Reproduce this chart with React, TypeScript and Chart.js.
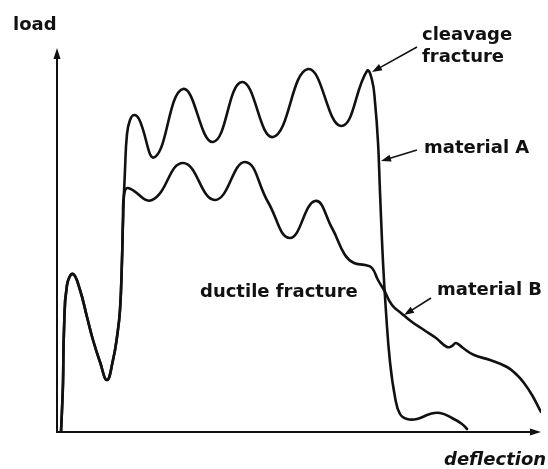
import React, { useEffect, useRef } from "react";
import { Chart, registerables } from "chart.js";

Chart.register(...registerables);

// deflection (x) / load (y), arbitrary units
const materialA: [number, number][] = [
  [4, 0], [5, 22], [6, 49], [7, 102], [10, 147], [16, 158], [23, 142], [30, 115],
  [36, 92], [43, 70], [50, 52], [56, 72], [60, 95], [63, 122], [65, 172], [66, 212],
  [68, 262], [70, 298], [73, 312], [77, 317], [82, 313], [98, 275], [126, 343],
  [156, 290], [185, 350], [216, 295], [251, 363], [284, 306], [310, 361], [315, 352],
  [318, 330], [321, 290], [323, 240], [326, 170], [329, 120], [333, 70], [338, 35],
  [343, 18], [350, 13], [360, 13], [373, 18], [383, 19], [395, 14], [405, 8], [410, 3],
];

const materialB: [number, number][] = [
  [4, 0], [5, 22], [6, 49], [7, 102], [10, 147], [16, 158], [23, 142], [30, 115],
  [36, 92], [43, 70], [50, 52], [56, 72], [60, 95], [63, 122], [65, 172], [66, 212],
  [67, 237], [71, 244], [95, 232], [126, 269], [158, 232], [188, 270], [211, 230],
  [233, 194], [258, 231], [275, 204], [288, 177], [297, 169], [308, 167], [315, 164],
  [321, 152], [327, 142], [335, 127], [344, 119], [355, 110], [367, 102], [379, 94],
  [390, 85], [395, 86], [399, 89], [406, 84], [417, 77], [433, 72], [450, 65],
  [460, 57], [467, 49], [475, 37], [484, 20],
];

const xMax = 484;
const yMax = 384;

// text labels: [text, x, y (baseline)] in data units
const labelTexts = ["load", "cleavage", "fracture", "material A", "ductile fracture", "material B", "deflection"];
const labelX = [-44, 365, 365, 367, 143, 380, 387];
const labelY = [402, 392, 370, 279, 135, 137, -33];

// annotation arrows: from (x0,y0) to tip (x1,y1) in data units
const arrowFromX = [360, 360, 374];
const arrowFromY = [385, 282, 134];
const arrowToX = [315, 324, 347];
const arrowToY = [360, 271, 117];

function arrowHead(ctx: CanvasRenderingContext2D, x0: number, y0: number, x1: number, y1: number, len: number, half: number) {
  const a = Math.atan2(y1 - y0, x1 - x0);
  ctx.beginPath();
  ctx.moveTo(x1, y1);
  ctx.lineTo(x1 - len * Math.cos(a) + half * Math.sin(a), y1 - len * Math.sin(a) - half * Math.cos(a));
  ctx.lineTo(x1 - len * Math.cos(a) - half * Math.sin(a), y1 - len * Math.sin(a) + half * Math.cos(a));
  ctx.closePath();
  ctx.fill();
}

const decor = {
  id: "decor",
  afterDatasetsDraw(chart: any) {
    const { ctx, chartArea, scales } = chart;
    const sx = scales.x, sy = scales.y;
    ctx.save();
    ctx.strokeStyle = "#111";
    ctx.fillStyle = "#111";
    // axes
    ctx.lineWidth = 2;
    ctx.beginPath();
    ctx.moveTo(chartArea.left, chartArea.top + 6);
    ctx.lineTo(chartArea.left, chartArea.bottom);
    ctx.lineTo(chartArea.right - 6, chartArea.bottom);
    ctx.stroke();
    arrowHead(ctx, chartArea.left, chartArea.bottom, chartArea.left, chartArea.top, 11, 3.5);
    arrowHead(ctx, chartArea.left, chartArea.bottom, chartArea.right, chartArea.bottom, 11, 3.5);
    // annotation arrows
    ctx.lineWidth = 1.6;
    for (let i = 0; i < arrowFromX.length; i++) {
      const x0 = sx.getPixelForValue(arrowFromX[i]);
      const y0 = sy.getPixelForValue(arrowFromY[i]);
      const x1 = sx.getPixelForValue(arrowToX[i]);
      const y1 = sy.getPixelForValue(arrowToY[i]);
      const a = Math.atan2(y1 - y0, x1 - x0);
      ctx.beginPath();
      ctx.moveTo(x0, y0);
      ctx.lineTo(x1 - 6 * Math.cos(a), y1 - 6 * Math.sin(a));
      ctx.stroke();
      arrowHead(ctx, x0, y0, x1, y1, 10, 3.5);
    }
    // labels
    ctx.textBaseline = "alphabetic";
    ctx.textAlign = "left";
    for (let i = 0; i < labelTexts.length; i++) {
      const t = labelTexts[i];
      ctx.font = t === "deflection"
        ? "italic bold 18px 'DejaVu Sans'"
        : "bold 18px 'DejaVu Sans'";
      ctx.fillText(t, sx.getPixelForValue(labelX[i]), sy.getPixelForValue(labelY[i]));
    }
    ctx.restore();
  },
};

export default function App() {
  const ref = useRef<HTMLCanvasElement | null>(null);
  useEffect(() => {
    if (!ref.current) return;
    const mk = (pts: [number, number][]) => pts.map(([x, y]) => ({ x, y }));
    const chart = new Chart(ref.current, {
      type: "line",
      data: {
        datasets: [
          {
            label: "material A",
            data: mk(materialA),
            borderColor: "#111",
            borderWidth: 2.6,
            pointRadius: 0,
            tension: 0.45,
            fill: false,
          },
          {
            label: "material B",
            data: mk(materialB),
            borderColor: "#111",
            borderWidth: 2.6,
            pointRadius: 0,
            tension: 0.45,
            fill: false,
          },
        ],
      },
      options: {
        responsive: false,
        animation: false,
        devicePixelRatio: 1,
        layout: { padding: { left: 57, right: 7, top: 48, bottom: 37 } },
        plugins: { legend: { display: false }, tooltip: { enabled: false } },
        scales: {
          x: { type: "linear", min: 0, max: xMax, display: false },
          y: { type: "linear", min: 0, max: yMax, display: false },
        },
        elements: { line: { borderCapStyle: "round", borderJoinStyle: "round" } },
      },
      plugins: [decor],
    } as any);
    return () => chart.destroy();
  }, []);
  return (
    <div style={{ position: "fixed", left: 0, top: 0, width: 548, height: 469, background: "#fff" }}>
      <canvas ref={ref} width={548} height={469} />
    </div>
  );
}
